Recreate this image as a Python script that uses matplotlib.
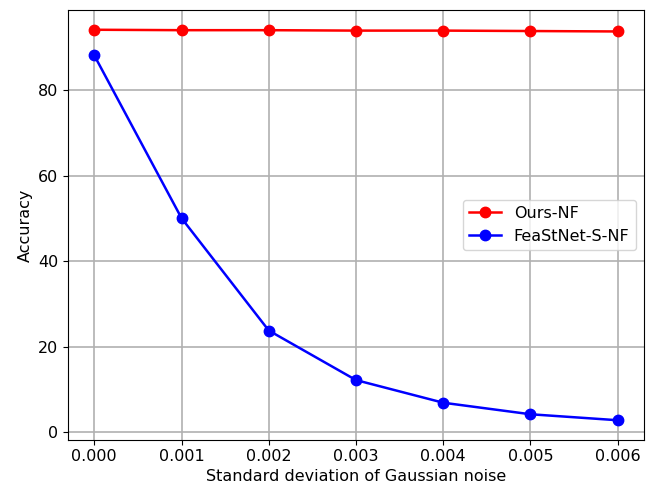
import matplotlib
matplotlib.use('Agg')
import matplotlib.pyplot as plt

noise = [0.000, 0.001, 0.002, 0.003, 0.004, 0.005, 0.006]
ours_nf = [94.2, 94.1, 94.1, 94.0, 94.0, 93.9, 93.8]
feastnet_nf = [88.2, 50.1, 23.8, 12.2, 6.9, 4.2, 2.8]

plt.rcParams['font.size'] = 11.5

fig, ax = plt.subplots(figsize=(6.55, 4.87), dpi=100)
fig.subplots_adjust(left=0.104, right=0.983, top=0.979, bottom=0.097)

ax.plot(noise, ours_nf, 'r-o', label='Ours-NF', linewidth=1.8, markersize=7.5)
ax.plot(noise, feastnet_nf, 'b-o', label='FeaStNet-S-NF', linewidth=1.8, markersize=7.5)
ax.set_xlabel('Standard deviation of Gaussian noise', labelpad=3)
ax.set_ylabel('Accuracy')
ax.set_xticks(noise)
ax.set_xticklabels([f'{v:.3f}' for v in noise])
ax.grid(True, linewidth=1.2)
ax.legend(loc='center right')

fig.savefig('out.png')
